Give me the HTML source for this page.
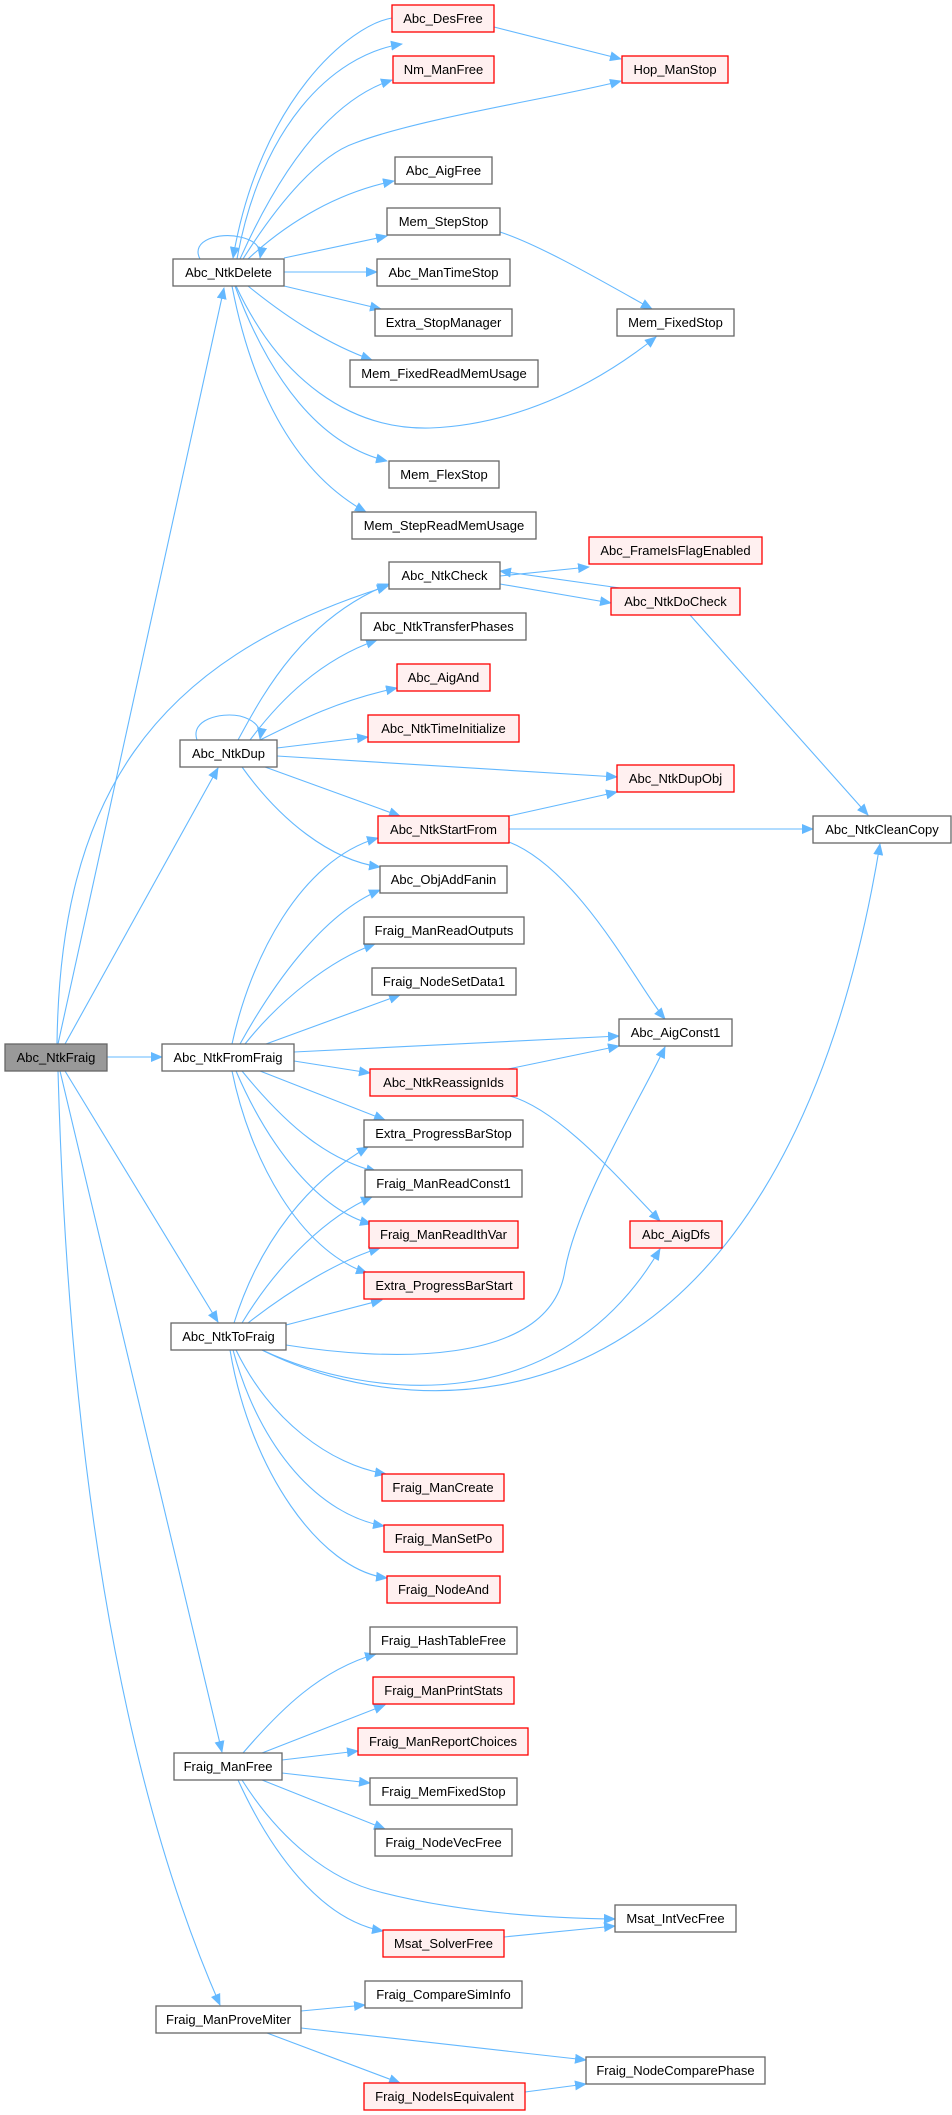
<!DOCTYPE html>
<html><head><meta charset="utf-8"><style>
html,body{margin:0;padding:0;background:#fff;}
svg{display:block;}
text{font-family:"Liberation Sans",Arial,sans-serif;font-size:13px;fill:#000;text-anchor:middle;dominant-baseline:central;}
.e{fill:none;stroke:#63b8ff;stroke-width:1.1;marker-end:url(#a);}
.n{fill:#fff;stroke:#666;stroke-width:1.3;}
.r{fill:#fff0f0;stroke:#f00;stroke-width:1.3;}
.g{fill:#999;stroke:#666;stroke-width:1.3;}
</style></head><body>
<svg width="952" height="2115" viewBox="0 0 952 2115" xmlns="http://www.w3.org/2000/svg">
<defs><marker id="a" markerWidth="12" markerHeight="10" refX="11" refY="5" orient="auto" markerUnits="userSpaceOnUse"><path d="M0,0 L12,5 L0,10 Z" fill="#63b8ff"/></marker></defs>
<g>
<!-- NtkFraig edges -->
<path class="e" d="M58,1044 L224,288"/>
<path class="e" d="M57,1044 C60,800 150,660 388,586"/>
<path class="e" d="M65,1044 L218,768"/>
<path class="e" d="M107,1057 L162,1057"/>
<path class="e" d="M65,1071 L218,1322"/>
<path class="e" d="M60,1071 L222,1752"/>
<path class="e" d="M58,1071 C70,1500 130,1800 220,2005"/>
<!-- NtkDelete -->
<path class="e" d="M392,18 C350,25 260,100 233,258"/>
<path class="e" d="M237,259 C260,130 330,55 402,44"/>
<path class="e" d="M240,259 C280,170 330,100 392,80"/>
<path class="e" d="M243,259 C280,200 320,155 355,143 C420,118 560,97 621,81"/>
<path class="e" d="M248,259 C290,220 340,192 394,181"/>
<path class="e" d="M284,258 L387,236"/>
<path class="e" d="M284,272 L377,272"/>
<path class="e" d="M284,286 L381,309"/>
<path class="e" d="M248,286 C290,320 330,345 372,360"/>
<path class="e" d="M236,286 C280,380 350,430 430,428 C510,425 590,390 656,337"/>
<path class="e" d="M235,286 C270,380 320,445 387,461"/>
<path class="e" d="M232,286 C250,380 290,470 366,512"/>
<path class="e" d="M200,259 C190,240 220,232 240,237 C255,240 262,248 260,258"/>
<path class="e" d="M500,232 C540,245 600,280 652,309"/>
<path class="e" d="M494,27 L621,59"/>
<!-- NtkCheck -->
<path class="e" d="M500,576 L589,567"/>
<path class="e" d="M500,584 L611,603"/>
<path class="e" d="M620,588 L500,571"/>
<path class="e" d="M690,615 L868,815"/>
<!-- NtkDup -->
<path class="e" d="M238,740 C260,700 300,620 389,584"/>
<path class="e" d="M250,740 C280,700 320,660 377,640"/>
<path class="e" d="M260,740 C300,720 340,700 397,688"/>
<path class="e" d="M197,740 C190,720 220,712 240,716 C255,720 262,728 260,739"/>
<path class="e" d="M277,748 L368,737"/>
<path class="e" d="M277,756 L617,777"/>
<path class="e" d="M265,767 L400,816"/>
<path class="e" d="M242,767 C280,820 330,860 380,867"/>
<!-- StartFrom -->
<path class="e" d="M509,816 L617,792"/>
<path class="e" d="M509,829 L813,829"/>
<path class="e" d="M509,842 C580,870 640,990 665,1019"/>
<!-- FromFraig -->
<path class="e" d="M232,1044 C250,960 300,860 378,838"/>
<path class="e" d="M240,1044 C270,990 320,915 380,890"/>
<path class="e" d="M245,1044 C280,1000 330,960 375,944"/>
<path class="e" d="M266,1044 L400,995"/>
<path class="e" d="M294,1052 L619,1036"/>
<path class="e" d="M294,1061 L370,1073"/>
<path class="e" d="M260,1071 L385,1120"/>
<path class="e" d="M242,1071 C290,1130 330,1160 377,1172"/>
<path class="e" d="M236,1071 C270,1150 320,1210 371,1224"/>
<path class="e" d="M232,1071 C250,1160 300,1250 367,1273"/>
<path class="e" d="M508,1069 L619,1046"/>
<path class="e" d="M510,1096 C560,1110 620,1180 660,1221"/>
<!-- ToFraig -->
<path class="e" d="M234,1323 C260,1240 310,1180 368,1147"/>
<path class="e" d="M242,1323 C280,1260 330,1215 372,1197"/>
<path class="e" d="M248,1323 C290,1290 340,1260 380,1248"/>
<path class="e" d="M286,1325 L382,1300"/>
<path class="e" d="M286,1345 C380,1360 550,1370 565,1270 C578,1200 640,1100 665,1047"/>
<path class="e" d="M262,1350 C370,1400 560,1420 660,1249"/>
<path class="e" d="M262,1350 C420,1430 780,1450 880,844"/>
<path class="e" d="M236,1350 C270,1420 330,1465 386,1474"/>
<path class="e" d="M233,1350 C260,1450 320,1515 384,1526"/>
<path class="e" d="M230,1350 C250,1470 320,1570 387,1578"/>
<!-- ManFree -->
<path class="e" d="M243,1753 C280,1710 320,1670 376,1654"/>
<path class="e" d="M262,1753 L385,1705"/>
<path class="e" d="M282,1760 L358,1751"/>
<path class="e" d="M282,1773 L370,1783"/>
<path class="e" d="M262,1780 L385,1829"/>
<path class="e" d="M242,1780 C280,1840 330,1880 380,1892 C450,1910 530,1918 615,1919"/>
<path class="e" d="M238,1780 C270,1850 320,1920 383,1931"/>
<path class="e" d="M504,1937 L615,1926"/>
<!-- ProveMiter -->
<path class="e" d="M301,2011 L365,2005"/>
<path class="e" d="M301,2028 L586,2060"/>
<path class="e" d="M267,2033 L400,2083"/>
<path class="e" d="M525,2092 L586,2084"/>
</g>
<g>
<rect class="r" x="392" y="5" width="102" height="27"/><text x="443" y="18.5">Abc_DesFree</text>
<rect class="r" x="393" y="56" width="101" height="27"/><text x="443.5" y="69.5">Nm_ManFree</text>
<rect class="r" x="622" y="56" width="106" height="27"/><text x="675" y="69.5">Hop_ManStop</text>
<rect class="n" x="395" y="157" width="97" height="27"/><text x="443.5" y="170.5">Abc_AigFree</text>
<rect class="n" x="387" y="208" width="113" height="27"/><text x="443.5" y="221.5">Mem_StepStop</text>
<rect class="n" x="173" y="259" width="111" height="27"/><text x="228.5" y="272.5">Abc_NtkDelete</text>
<rect class="n" x="377" y="259" width="133" height="27"/><text x="443.5" y="272.5">Abc_ManTimeStop</text>
<rect class="n" x="375" y="309" width="137" height="27"/><text x="443.5" y="322.5">Extra_StopManager</text>
<rect class="n" x="617" y="309" width="117" height="27"/><text x="675.5" y="322.5">Mem_FixedStop</text>
<rect class="n" x="350" y="360" width="188" height="27"/><text x="444" y="373.5">Mem_FixedReadMemUsage</text>
<rect class="n" x="389" y="461" width="110" height="27"/><text x="444" y="474.5">Mem_FlexStop</text>
<rect class="n" x="352" y="512" width="184" height="27"/><text x="444" y="525.5">Mem_StepReadMemUsage</text>
<rect class="r" x="589" y="537" width="173" height="27"/><text x="675.5" y="550.5">Abc_FrameIsFlagEnabled</text>
<rect class="n" x="389" y="562" width="111" height="27"/><text x="444.5" y="575.5">Abc_NtkCheck</text>
<rect class="r" x="611" y="588" width="129" height="27"/><text x="675.5" y="601.5">Abc_NtkDoCheck</text>
<rect class="n" x="361" y="613" width="165" height="27"/><text x="443.5" y="626.5">Abc_NtkTransferPhases</text>
<rect class="r" x="397" y="664" width="93" height="27"/><text x="443.5" y="677.5">Abc_AigAnd</text>
<rect class="r" x="368" y="715" width="151" height="27"/><text x="443.5" y="728.5">Abc_NtkTimeInitialize</text>
<rect class="n" x="180" y="740" width="97" height="27"/><text x="228.5" y="753.5">Abc_NtkDup</text>
<rect class="r" x="617" y="765" width="117" height="27"/><text x="675.5" y="778.5">Abc_NtkDupObj</text>
<rect class="r" x="378" y="816" width="131" height="27"/><text x="443.5" y="829.5">Abc_NtkStartFrom</text>
<rect class="n" x="813" y="816" width="138" height="27"/><text x="882" y="829.5">Abc_NtkCleanCopy</text>
<rect class="n" x="380" y="866" width="127" height="27"/><text x="443.5" y="879.5">Abc_ObjAddFanin</text>
<rect class="n" x="364" y="917" width="160" height="27"/><text x="444" y="930.5">Fraig_ManReadOutputs</text>
<rect class="n" x="372" y="968" width="144" height="27"/><text x="444" y="981.5">Fraig_NodeSetData1</text>
<rect class="n" x="619" y="1019" width="113" height="27"/><text x="675.5" y="1032.5">Abc_AigConst1</text>
<rect class="g" x="5" y="1044" width="102" height="27"/><text x="56" y="1057.5">Abc_NtkFraig</text>
<rect class="n" x="162" y="1044" width="132" height="27"/><text x="228" y="1057.5">Abc_NtkFromFraig</text>
<rect class="r" x="370" y="1069" width="147" height="27"/><text x="443.5" y="1082.5">Abc_NtkReassignIds</text>
<rect class="n" x="364" y="1120" width="159" height="27"/><text x="443.5" y="1133.5">Extra_ProgressBarStop</text>
<rect class="n" x="365" y="1170" width="157" height="27"/><text x="443.5" y="1183.5">Fraig_ManReadConst1</text>
<rect class="r" x="369" y="1221" width="149" height="27"/><text x="443.5" y="1234.5">Fraig_ManReadIthVar</text>
<rect class="r" x="630" y="1221" width="92" height="27"/><text x="676" y="1234.5">Abc_AigDfs</text>
<rect class="r" x="364" y="1272" width="160" height="27"/><text x="444" y="1285.5">Extra_ProgressBarStart</text>
<rect class="n" x="171" y="1323" width="115" height="27"/><text x="228.5" y="1336.5">Abc_NtkToFraig</text>
<rect class="r" x="382" y="1474" width="122" height="27"/><text x="443" y="1487.5">Fraig_ManCreate</text>
<rect class="r" x="384" y="1525" width="119" height="27"/><text x="443.5" y="1538.5">Fraig_ManSetPo</text>
<rect class="r" x="387" y="1576" width="113" height="27"/><text x="443.5" y="1589.5">Fraig_NodeAnd</text>
<rect class="n" x="370" y="1627" width="147" height="27"/><text x="443.5" y="1640.5">Fraig_HashTableFree</text>
<rect class="r" x="373" y="1677" width="141" height="27"/><text x="443.5" y="1690.5">Fraig_ManPrintStats</text>
<rect class="r" x="358" y="1728" width="170" height="27"/><text x="443" y="1741.5">Fraig_ManReportChoices</text>
<rect class="n" x="174" y="1753" width="108" height="27"/><text x="228" y="1766.5">Fraig_ManFree</text>
<rect class="n" x="370" y="1778" width="147" height="27"/><text x="443.5" y="1791.5">Fraig_MemFixedStop</text>
<rect class="n" x="375" y="1829" width="137" height="27"/><text x="443.5" y="1842.5">Fraig_NodeVecFree</text>
<rect class="n" x="615" y="1905" width="121" height="27"/><text x="675.5" y="1918.5">Msat_IntVecFree</text>
<rect class="r" x="383" y="1930" width="121" height="27"/><text x="443.5" y="1943.5">Msat_SolverFree</text>
<rect class="n" x="365" y="1981" width="157" height="27"/><text x="443.5" y="1994.5">Fraig_CompareSimInfo</text>
<rect class="n" x="156" y="2006" width="145" height="27"/><text x="228.5" y="2019.5">Fraig_ManProveMiter</text>
<rect class="n" x="586" y="2057" width="179" height="27"/><text x="675.5" y="2070.5">Fraig_NodeComparePhase</text>
<rect class="r" x="364" y="2083" width="161" height="27"/><text x="444.5" y="2096.5">Fraig_NodeIsEquivalent</text>
</g>
</svg>
</body></html>
